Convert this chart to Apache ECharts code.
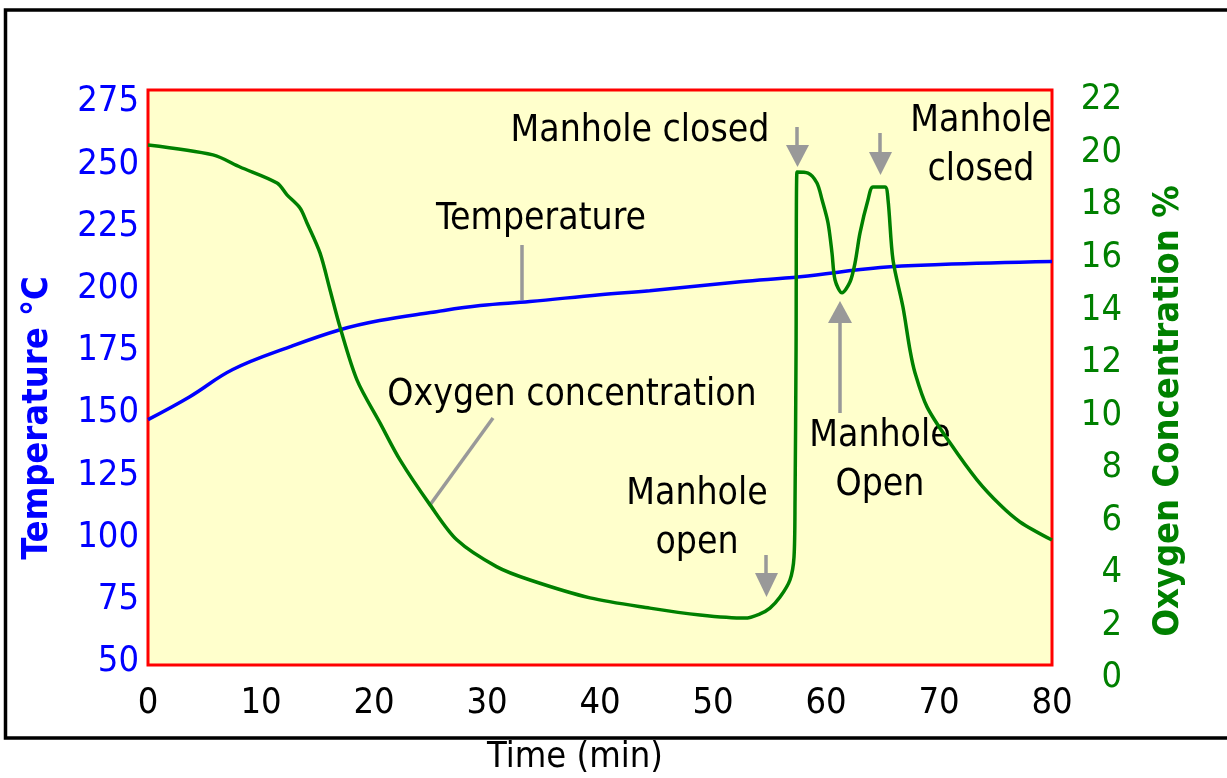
<!DOCTYPE html>
<html><head><meta charset="utf-8">
<script src="https://cdn.jsdelivr.net/npm/echarts@6/dist/echarts.min.js"></script>
<style>html,body{margin:0;padding:0;background:#fff;}#c{width:1227px;height:778px;}</style>
</head><body><div id="c"></div>
<script>
// ---- data ----
const timeTicks = [0, 10, 20, 30, 40, 50, 60, 70, 80];
const tempTicks = [50, 75, 100, 125, 150, 175, 200, 225, 250, 275];
const o2Ticks = [0, 2, 4, 6, 8, 10, 12, 14, 16, 18, 20, 22];

const tempTime  = [0, 3.7, 7.5, 12.6, 17, 20.5, 25, 29.4, 33.8, 40, 44.4, 52.4, 57.7, 64.8, 70.1, 80];
const tempValue = [147.4, 156.6, 167.5, 176.7, 183.5, 187.2, 190.4, 193.2, 194.8, 197.6, 199.2, 202.8, 204.8, 208.5, 209.7, 210.9];

const o2Time  = [0, 5.75, 8.14, 11.42, 12.3, 13.45, 14.07, 15.22, 16.11, 16.99,
                 18.5, 20.53, 22.3, 24.96, 27.35, 30.88, 33.81, 39.12, 44.42, 48.85,
                 52.83, 54.16, 55.04, 55.93, 56.81, 57.17, 57.26, 57.35, 57.43, 58.41,
                 59.2, 59.65, 60.18, 60.53, 60.8, 61.42, 62.12, 62.57, 63.01, 63.72,
                 64.16, 65.22, 65.49, 65.93, 66.81, 67.43, 67.88, 68.94, 70.97, 73.36,
                 75.4, 77.17, 80];
const o2Value = [20.29, 19.91, 19.45, 18.84, 18.39, 17.89, 17.32, 16.18, 14.77, 13.36,
                 11.34, 9.71, 8.3, 6.59, 5.25, 4.23, 3.73, 3.05, 2.66, 2.4,
                 2.28, 2.44, 2.66, 3.08, 3.73, 4.61, 6.78, 12.49, 19.26, 19.22,
                 18.84, 18.2, 17.32, 16.18, 15.15, 14.66, 15.07, 15.8, 16.94, 18.2,
                 18.69, 18.69, 18.2, 15.91, 14.12, 12.49, 11.61, 10.32, 8.95, 7.54,
                 6.59, 5.94, 5.25];

const xTitle = 'Time (min)';
const yLeftTitle = 'Temperature °C';
const yRightTitle = 'Oxygen Concentration %';

// ---- styles ----
const FONT = '"DejaVu Sans Condensed", "DejaVu Sans", sans-serif';
const BLUE = '#0000ff', GREEN = '#008000', GRAY = '#999999';

const tempData = tempTime.map((t, i) => [t, tempValue[i]]);
const o2Data = o2Time.map((t, i) => [t, o2Value[i]]);

function txt(x, y, text, extra) {
  return Object.assign({
    type: 'text', x: x, y: y, silent: true,
    style: {
      text: text, x: 0, y: 0, fill: '#000', fontSize: 37, fontFamily: FONT,
      align: 'center', verticalAlign: 'middle', textAlign: 'center', textVerticalAlign: 'middle',
      lineHeight: 49
    }
  }, extra || {});
}
function gline(x1, y1, x2, y2) {
  return { type: 'line', silent: true, shape: { x1, y1, x2, y2 }, style: { stroke: GRAY, lineWidth: 3.5 } };
}
function gtri(pts) {
  return { type: 'polygon', silent: true, shape: { points: pts }, style: { fill: GRAY } };
}
function titleStyle(text, color) {
  return { text: text, x: 0, y: 0, fill: color, fontSize: 36, fontWeight: 'bold', fontFamily: FONT,
           align: 'center', verticalAlign: 'middle', textAlign: 'center', textVerticalAlign: 'middle' };
}

const xBase = { min: timeTicks[0], max: timeTicks[timeTicks.length - 1], interval: timeTicks[1] - timeTicks[0], type: 'value' };

const chart = echarts.init(document.getElementById('c'), null, { renderer: 'canvas' });
chart.setOption({
  animation: false,
  backgroundColor: '#ffffff',
  grid: [
    { left: 148, right: 175, top: 90, bottom: 113, show: true, backgroundColor: '#ffffcc', borderColor: '#ff0000', borderWidth: 3 },
    { left: 148, right: 175, top: 102, bottom: 116 },
    { left: 148, right: 175, top: 100, bottom: 100 }
  ],
  xAxis: [
    Object.assign({}, xBase, {
      gridIndex: 0,
      axisLine: { show: false }, axisTick: { show: false }, splitLine: { show: false },
      axisLabel: { color: '#000', fontSize: 36, fontFamily: FONT, margin: 21 }
    }),
    Object.assign({}, xBase, { gridIndex: 1, show: false }),
    Object.assign({}, xBase, { gridIndex: 2, show: false })
  ],
  yAxis: [
    { gridIndex: 0, type: 'value', min: 0, max: 1, show: false },
    {
      gridIndex: 1, type: 'value', position: 'left',
      min: tempTicks[0], max: tempTicks[tempTicks.length - 1], interval: tempTicks[1] - tempTicks[0],
      axisLine: { show: false }, axisTick: { show: false }, splitLine: { show: false },
      axisLabel: { color: BLUE, fontSize: 36, fontFamily: FONT, margin: 9 }
    },
    {
      gridIndex: 2, type: 'value', position: 'right',
      min: o2Ticks[0], max: o2Ticks[o2Ticks.length - 1], interval: o2Ticks[1] - o2Ticks[0],
      axisLine: { show: false }, axisTick: { show: false }, splitLine: { show: false },
      axisLabel: { color: GREEN, fontSize: 36, fontFamily: FONT, margin: 70, align: 'right' }
    }
  ],
  series: [
    {
      name: 'Temperature', type: 'line', xAxisIndex: 1, yAxisIndex: 1, data: tempData,
      showSymbol: false, smooth: 0.4, z: 3,
      lineStyle: { color: BLUE, width: 3.5 }
    },
    {
      name: 'Oxygen concentration', type: 'line', xAxisIndex: 2, yAxisIndex: 2, data: o2Data,
      showSymbol: false, smooth: 0.3, z: 4,
      lineStyle: { color: GREEN, width: 3.5 }
    }
  ],
  graphic: [
    { type: 'rect', silent: true, shape: { x: 5.5, y: 10, width: 1240, height: 728 }, style: { fill: 'none', stroke: '#000', lineWidth: 3.5 } },
    txt(541, 219, 'Temperature'),
    txt(572, 395, 'Oxygen concentration'),
    txt(640, 131, 'Manhole closed'),
    txt(981, 146, 'Manhole\nclosed'),
    txt(697, 519, 'Manhole\nopen'),
    txt(880, 461, 'Manhole\nOpen'),
    txt(575, 758, xTitle, { style: Object.assign(titleStyle(xTitle, '#000'), { fontWeight: 'normal' }) }),
    txt(38, 418, yLeftTitle, { rotation: Math.PI / 2, style: titleStyle(yLeftTitle, BLUE) }),
    txt(1169, 411, yRightTitle, { rotation: Math.PI / 2, style: titleStyle(yRightTitle, GREEN) }),
    gline(522, 245, 522, 300),
    gline(493, 418, 430, 505),
    gline(797, 127, 797, 147), gtri([[786, 145], [809, 145], [797.5, 167]]),
    gline(880, 133, 880, 154), gtri([[869, 152], [892, 152], [880.5, 175]]),
    gline(840, 321, 840, 413), gtri([[828, 323], [852, 323], [840, 301]]),
    gline(766, 555, 766, 575), gtri([[755, 573], [778, 573], [766.5, 597]])
  ]
});
</script>
</body></html>
